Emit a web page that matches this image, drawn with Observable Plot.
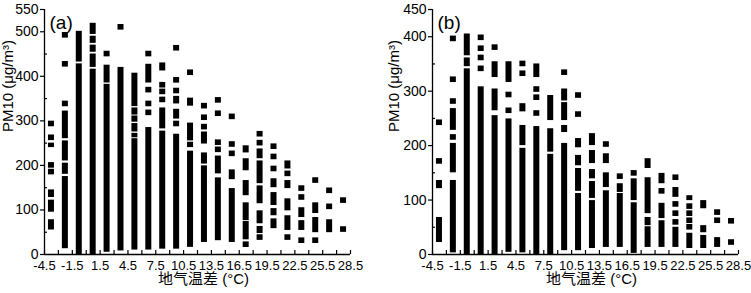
<!DOCTYPE html>
<html><head><meta charset="utf-8">
<script src="https://cdn.jsdelivr.net/npm/d3@7"></script>
<script src="https://cdn.jsdelivr.net/npm/@observablehq/plot@0.6"></script>
<style>
body{margin:0;background:#fff;}
#wrap{display:flex;width:751px;height:293px;overflow:hidden;}
</style></head><body><div id="wrap"></div>
<script>
// Temperature-difference bins (centres, °C)
const xBins = [-3.75,-2.25,-0.75,0.75,2.25,3.75,5.25,6.75,8.25,9.75,11.25,12.75,14.25,15.75,17.25,18.75,20.25,21.75,23.25,24.75,26.25,27.75];
const xTicks = [-4.5,-1.5,1.5,4.5,7.5,10.5,13.5,16.5,19.5,22.5,25.5,28.5];
const xMinorTicks = [-4.5,-3,-1.5,0,1.5,3,4.5,6,7.5,9,10.5,12,13.5,15,16.5,18,19.5,21,22.5,24,25.5,27,28.5];
const yTicksA = [0,100,200,300,400,500,550];
const yMinorA = [50,150,250,350,450];
const yTicksB = [0,100,200,300,400,450];
const yMinorB = [50,150,250,350];
const panelLabels = ["(a)","(b)"];
const xLabel = "地气温差 (°C)";
const yLabel = "PM10 (μg/m³)";

// PM10 values per bin: number = single observation, [lo, hi] = continuous run of observations
const colsA = [
  [293, 262, [240,250], 200, 185, [128,145], [95,122], [55,78]],
  [492, 427, 338, [260,322], [210,255], [180,205], [13,175]],
  [[432,501], [0,428]],
  [[494,519], [474,490], [454,470], [420,450], [0,416]],
  [450, [385,425], [5,382]],
  [510, [8,420]],
  [[332,407], [313,329], [297,311], [275,294], [262,272], [10,260]],
  [450, [385,427], 369, 338, 318, [10,285]],
  [[412,430], 380, 365, 347, [282,329], [12,277]],
  [463, 391, 367, [338,355], [304,326], 293, [12,270]],
  [408, [333,351], [255,295], [240,252], [16,232]],
  [333, 307, 286, [248,275], [203,228], [27,199]],
  [346, 316, 251, 235, [181,221], [31,172]],
  [309, 247, 226, [168,190], [27,148]],
  [[228,244], [188,215], [132,166], [76,116], [33,74], 22],
  [270, 250, [215,237], [159,210], [114,154], [69,98], [47,63], 38],
  [242, 219, 192, [150,170], [110,139], [87,103], [58,80]],
  [[192,210], 181, [148,166], [98,125], [54,87], 38],
  [148, 128, [83,105], [54,76], 31],
  [166, [92,116], [49,83], 31],
  [143, 107, [49,78]],
  [121, 56]
];
const colsB = [
  [242, 171, [121,136], [22,68]],
  [396, 321, 281, [228,268], 215, [150,204], [3,136]],
  [[365,405], [345,361], [0,341]],
  [398, 378, 361, 341, [0,308]],
  [380, [325,354], [264,304], [0,255]],
  [[316,354], 293, 264, [4,249]],
  [350, 332, [262,277], [200,237], [3,195]],
  [[325,350], 303, 288, 259, [0,235]],
  [[246,292], [188,231], [0,184]],
  [334, [282,304], [246,279], [224,237], [7,204]],
  [292, 257, [196,213], [163,182], [116,158], [7,112]],
  [[200,222], [167,191], [139,156], [103,134], [11,99]],
  [202, [167,185], [123,150], [13,117]],
  [143, [114,130], [13,112]],
  [149, [99,139], [2,95]],
  [[158,176], [75,141], [53,68], [13,51]],
  [[130,149], 116, [66,94], [13,62]],
  [141, [105,123], 92, 75, 59, [13,50]],
  [[99,108], 88, 75, 62, 50, [11,39]],
  [[84,99], [40,53], [11,35]],
  [77, 62, [13,31]],
  [61, 22]
];

function split(cols) {
  const runs = [], pts = [];
  cols.forEach((c, i) => c.forEach(v => {
    if (Array.isArray(v)) runs.push({x: xBins[i], lo: v[0], hi: v[1]});
    else pts.push({x: xBins[i], y: v});
  }));
  return {runs, pts};
}

const FONT = "'Liberation Sans', Arial, 'Noto Sans CJK SC', sans-serif";

function panel({cols, yTicks, yMinor, yMax, label, width, marginLeft, marginRight, ylabDx}) {
  const {runs, pts} = split(cols);
  return Plot.plot({
    width, height: 293, marginLeft, marginRight, marginTop: 9, marginBottom: 39,
    style: {fontFamily: FONT, fontSize: "13px", color: "#000", background: "#fff", overflow: "visible"},
    x: {domain: [-4.5, 28.5]},
    y: {domain: [0, yMax]},
    marks: [
      Plot.rect(runs, {x1: "x", x2: "x", y1: "lo", y2: "hi", fill: "#000", insetLeft: -3, insetRight: -3}),
      Plot.rect(pts, {x1: "x", x2: "x", y1: "y", y2: "y", fill: "#000", insetLeft: -3, insetRight: -3, insetTop: -2.8, insetBottom: -2.8}),
      Plot.ruleX([-4.5], {stroke: "#000", strokeWidth: 1.3}),
      Plot.ruleY([0], {stroke: "#000", strokeWidth: 1.3}),
      Plot.axisX({ticks: xMinorTicks, tickSize: 4, dy: -4, tickFormat: () => "", label: null, strokeWidth: 1.2}),
      Plot.axisX({ticks: xTicks, tickSize: 0, tickPadding: 6, tickFormat: d => String(d), fontSize: 13, label: null}),
      Plot.axisY({ticks: yTicks, tickSize: 4, tickPadding: 2, fontSize: 14, label: null, strokeWidth: 1.2}),
      Plot.axisY({ticks: yMinor, tickSize: 3, dx: 3, tickFormat: () => "", label: null, strokeWidth: 1.2}),
      Plot.text([label], {frameAnchor: "top-left", dx: 5, dy: 6, fontSize: 19, fill: "#000"}),
      Plot.text([xLabel], {frameAnchor: "bottom", dx: 6, dy: 29, fontSize: 15, fill: "#000"}),
      Plot.text([yLabel], {frameAnchor: "left", dx: ylabDx, rotate: -90, fontSize: 15, fill: "#000"})
    ]
  });
}

const wrap = document.getElementById("wrap");
wrap.append(panel({cols: colsA, yTicks: yTicksA, yMinor: yMinorA, yMax: 550, label: panelLabels[0], width: 375, marginLeft: 44, marginRight: 25, ylabDx: -36}));
wrap.append(panel({cols: colsB, yTicks: yTicksB, yMinor: yMinorB, yMax: 450, label: panelLabels[1], width: 376, marginLeft: 57, marginRight: 13, ylabDx: -38}));
</script></body></html>
